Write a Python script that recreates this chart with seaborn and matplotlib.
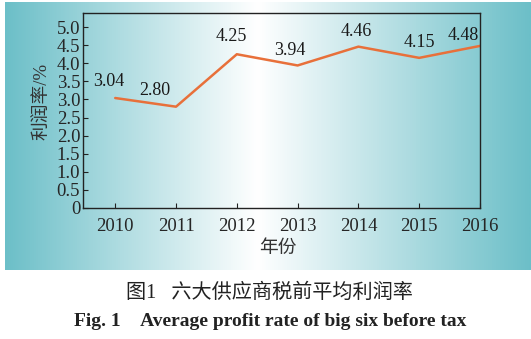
import numpy as np
import pandas as pd
import matplotlib
matplotlib.use("Agg")
import matplotlib.pyplot as plt
import seaborn as sns
from matplotlib.colors import LinearSegmentedColormap

years = [2010, 2011, 2012, 2013, 2014, 2015, 2016]
profit = [3.04, 2.80, 4.25, 3.94, 4.46, 4.15, 4.48]
labels = ["3.04", "2.80", "4.25", "3.94", "4.46", "4.15", "4.48"]
yticks = [0, 0.5, 1.0, 1.5, 2.0, 2.5, 3.0, 3.5, 4.0, 4.5, 5.0]
ytick_labels = ["0", "0.5", "1.0", "1.5", "2.0", "2.5", "3.0", "3.5", "4.0", "4.5", "5.0"]

sns.set_style("ticks")
plt.rcParams['font.family'] = ['Liberation Serif', 'Noto Sans CJK SC']

W, H = 531, 339
fig = plt.figure(figsize=(W / 100, H / 100), dpi=100)
fig.patch.set_facecolor("white")

# gradient background panel
bg = fig.add_axes([5 / W, 1 - 270 / H, (W - 5) / W, (270 - 2) / H], zorder=0)
teal = "#6cbfc8"
cmap = LinearSegmentedColormap.from_list("bg", [(0, teal), (0.48, "#ffffff"), (1, teal)])
grad = np.linspace(0, 1, 512).reshape(1, -1)
bg.imshow(grad, aspect="auto", cmap=cmap, extent=[0, 1, 0, 1])
bg.set_axis_off()

ax = fig.add_axes([83 / W, 1 - 208 / H, (480 - 83) / W, (208 - 13) / H], zorder=1)
ax.set_facecolor("none")
df = pd.DataFrame({"year": years, "profit": profit})
sns.lineplot(data=df, x="year", y="profit", ax=ax, color="#e8703a", linewidth=1.8)

offsets = [(-6, 17), (-21, 16), (-6, 18), (-8, 15), (-2, 15), (0, 15), (-17, 10)]
for x, y, t, (dx, dy) in zip(years, profit, labels, offsets):
    ax.annotate(t, (x, y), xytext=(dx, dy), textcoords="offset pixels",
                ha="center", va="center", fontsize=13, color="#1a1a1a")

ax.set_xlim(2009.47, 2016)
ax.set_ylim(0, 5.39)
ax.set_xticks(years)
ax.set_xticklabels([str(y) for y in years], fontsize=13.5)
ax.set_yticks(yticks)
ax.set_yticklabels(ytick_labels, fontsize=13.5)
ax.tick_params(direction="in", length=3.5, width=0.8, color="#222222", pad=2)
ax.tick_params(axis="x", pad=7)
for s in ax.spines.values():
    s.set_visible(True)
    s.set_color("#222222")
    s.set_linewidth(1.0)
ax.set_xlabel("年份", fontsize=13.5, color="#333333")
ax.set_ylabel("利润率/%", fontsize=13.5, color="#333333")
ax.xaxis.set_label_coords(0.49, -0.165)
ax.yaxis.set_label_coords(-0.083, 0.545)

fig.text(269 / W, 1 - 293 / H, "图1\u2002 六大供应商税前平均利润率", ha="center", va="center",
         fontsize=14.5, color="#222222")
fig.text(270 / W, 1 - 321 / H, "Fig. 1\u2003Average profit rate of big six before tax",
         ha="center", va="center", fontsize=14, fontweight="bold", color="#222222")

fig.savefig("out.png", dpi=100)
